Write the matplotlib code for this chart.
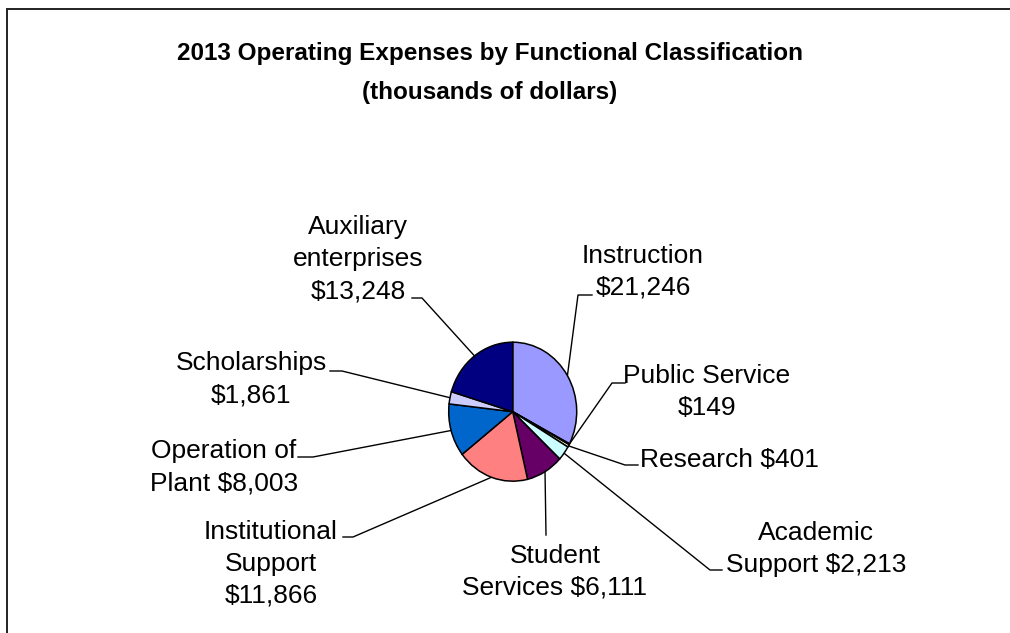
import numpy as np
import matplotlib
matplotlib.use('Agg')
import matplotlib.pyplot as plt

plt.rcParams['font.family'] = ['Liberation Sans', 'DejaVu Sans']

# data (thousands of dollars), clockwise from 12 o'clock
categories = ['Instruction', 'Public Service', 'Research', 'Academic Support',
              'Student Services', 'Institutional Support', 'Operation of Plant',
              'Scholarships', 'Auxiliary enterprises']
expenses = [21246, 149, 401, 2213, 6111, 11866, 8003, 1861, 13248]
colors = ['#9999FF', '#993366', '#FFFFCC', '#CCFFFF', '#660066',
          '#FF8080', '#0066CC', '#CCCCFF', '#000080']

# label text as shown on the chart
label_text = ['Instruction\n$21,246', 'Public Service\n$149', 'Research $401',
              'Academic\nSupport $2,213', 'Student\nServices $6,111',
              'Institutional\nSupport\n$11,866', 'Operation of\nPlant $8,003',
              'Scholarships\n$1,861', 'Auxiliary\nenterprises\n$13,248']

# label layout in pixels: text centre x, last-line baseline y,
# leader start point and elbow point (both pixels)
label_pos = [(643, 295), (707, 415), (729, 467), (816, 572), (555, 595),
             (271, 603), (224, 490), (251, 402), (358, 298)]
leader_start = [(592, 295), (625, 383), (638, 465), (722, 570), (546, 535),
                (343, 537), (298, 457), (330, 371), (412, 298)]
leader_elbow = [(578, 295), (612, 383), (625, 465), (710, 570), (546, 535),
                (353, 537), (313, 457), (342, 371), (422, 298)]

W, H = 1010, 633
fig = plt.figure(figsize=(W / 100, H / 100), dpi=100)

# overlay axes in pixel units (y down)
ax = fig.add_axes([0, 0, 1, 1])
ax.set_xlim(0, W)
ax.set_ylim(H, 0)
ax.axis('off')

# chart frame (only left/top edges fall inside the picture)
ax.plot([6.5, 6.5, W + 10], [H + 10, 8.5, 8.5], color='#222222', lw=1.4,
        solid_joinstyle='miter')

# pie axes - slightly taller than wide like the reference
cx, cy, rx, ry = 512.7, 411.7, 64.0, 69.5
pad = 1.1
pax = fig.add_axes([(cx - rx * pad) / W, (H - cy - ry * pad) / H,
                    2 * rx * pad / W, 2 * ry * pad / H])
pax.pie(expenses, colors=colors, startangle=90, counterclock=False,
        wedgeprops=dict(edgecolor='black', linewidth=1.1))
pax.set_aspect('auto')
pax.set_xlim(-pad, pad)
pax.set_ylim(-pad, pad)
pax.axis('off')

# leader lines to the middle of each wedge edge
fractions = np.array(expenses) / sum(expenses)
ends = 90 - 360 * np.cumsum(fractions)
mids = np.radians(ends + 180 * fractions)
to_px = ax.transData.inverted()
for i in range(len(categories)):
    edge = pax.transData.transform((np.cos(mids[i]), np.sin(mids[i])))
    ex, ey = to_px.transform(edge)
    sx, sy = leader_start[i]
    bx, by = leader_elbow[i]
    ax.plot([sx, bx, ex], [sy, by, ey], color='black', lw=1.0)

    tx, ty = label_pos[i]
    ax.text(tx, ty, label_text[i], ha='center', va='baseline',
            multialignment='center', fontsize=19, linespacing=1.42)

ax.text(490, 99, '2013 Operating Expenses by Functional Classification\n'
        '(thousands of dollars)', ha='center', va='baseline',
        fontsize=17.5, fontweight='bold', linespacing=1.9)

fig.savefig('out.png', dpi=100)
